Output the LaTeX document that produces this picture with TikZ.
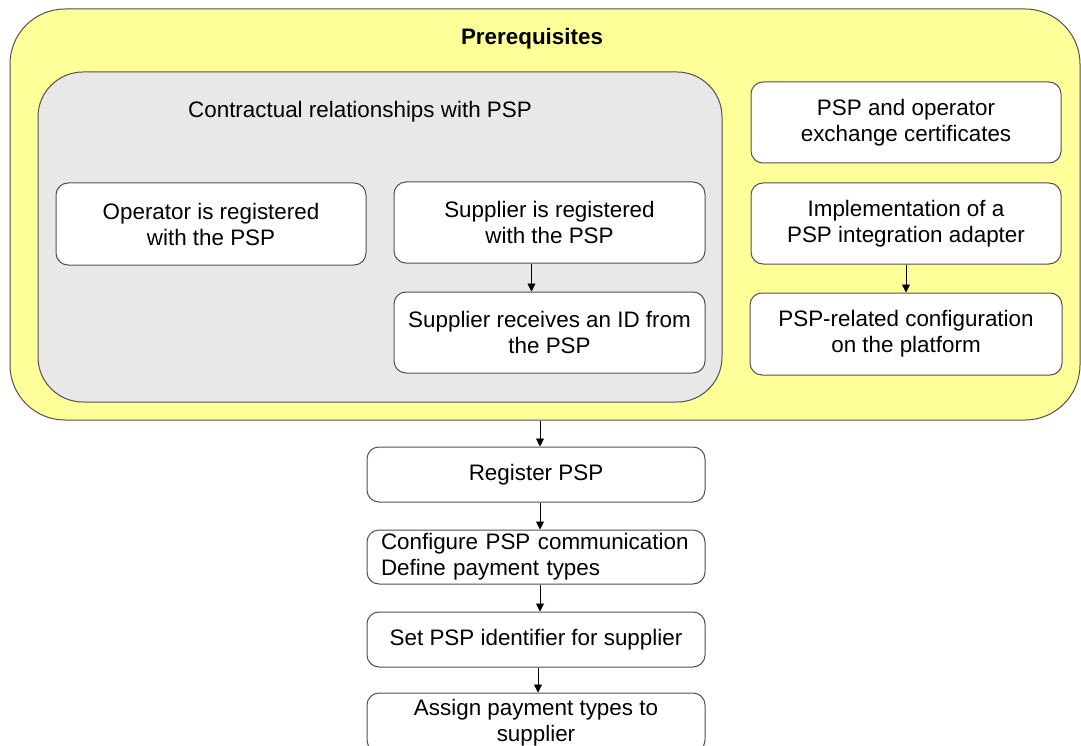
\documentclass[tikz,border=0pt]{standalone}
\usepackage{fontspec}
\setmainfont{Liberation Sans}
\usetikzlibrary{arrows.meta}
\definecolor{prereq}{HTML}{FFFF99}
\definecolor{contract}{HTML}{E8E8E8}
\definecolor{edge}{HTML}{505050}
\tikzset{
  txt/.style={font=\fontsize{22.4}{26}\selectfont, align=center},
  stepbox/.style={draw=edge, line width=1pt, fill=white, rounded corners=12pt,
    minimum width=310pt, minimum height=81pt, inner sep=0pt, txt},
  flowbox/.style={stepbox, minimum width=338pt, minimum height=55pt},
  arr/.style={draw=black, line width=0.9pt, -{Triangle[width=8pt,length=8pt]}},
}
\begin{document}
\begin{tikzpicture}[x=1pt, y=-1pt]
  \useasboundingbox (0,0) rectangle (1081,746);
  \clip (0,0) rectangle (1081,746);

  % outer group with prerequisites
  \node[draw=edge, line width=1pt, fill=prereq, rounded corners=55pt,
        minimum width=1070pt, minimum height=411pt, inner sep=0pt]
        (outer) at (545,214.5) {};
  \node[txt, font=\fontsize{22.4}{26}\selectfont\bfseries] (ptitle) at (532,39) {Prerequisites};

  % contractual relationships group
  \node[draw=edge, line width=1pt, fill=contract, rounded corners=45pt,
        minimum width=684pt, minimum height=330pt, inner sep=0pt]
        (contr) at (380,237) {};
  \node[txt] (ctitle) at (360,112) {Contractual relationships with PSP};

  \node[stepbox, minimum height=82pt] (op) at (211,224) {Operator is registered\\with the PSP};
  \node[stepbox, minimum width=311pt] (sreg) at (549.5,222.5) {Supplier is registered\\with the PSP};
  \node[stepbox, minimum width=311pt] (srec) at (549.5,332.5) {Supplier receives an ID from\\the PSP};

  % right column
  \node[stepbox] (cert) at (906,122.5) {PSP and operator\\exchange certificates};
  \node[stepbox] (impl) at (906,223.5) {Implementation of a\\PSP integration adapter};
  \node[stepbox, minimum width=312pt, minimum height=82pt] (cfg) at (906,334) {PSP-related configuration\\on the platform};

  % main flow
  \node[flowbox] (reg) at (536,474.5) {Register PSP};
  \node[flowbox, minimum height=54pt, text width=310pt, inner xsep=14pt, align=left]
        (conf) at (536,557) {Configure PSP communication\\Define payment types};
  \node[flowbox] (setid) at (536,639.5) {Set PSP identifier for supplier};
  \node[flowbox, minimum height=59pt] (assign) at (536,722.5) {Assign payment types to\\supplier};

  % connectors
  \coordinate (sx) at (531.5,0);
  \coordinate (mx) at (540,0);
  \coordinate (lx) at (538,0);
  \draw[arr] (sreg.south -| sx) -- (srec.north -| sx);
  \draw[arr] (impl.south) -- (cfg.north);
  \draw[arr] (outer.south -| mx) -- (reg.north -| mx);
  \draw[arr] (reg.south -| mx) -- (conf.north -| mx);
  \draw[arr] (conf.south -| mx) -- (setid.north -| mx);
  \draw[arr] (setid.south -| lx) -- (assign.north -| lx);
\end{tikzpicture}
\end{document}
